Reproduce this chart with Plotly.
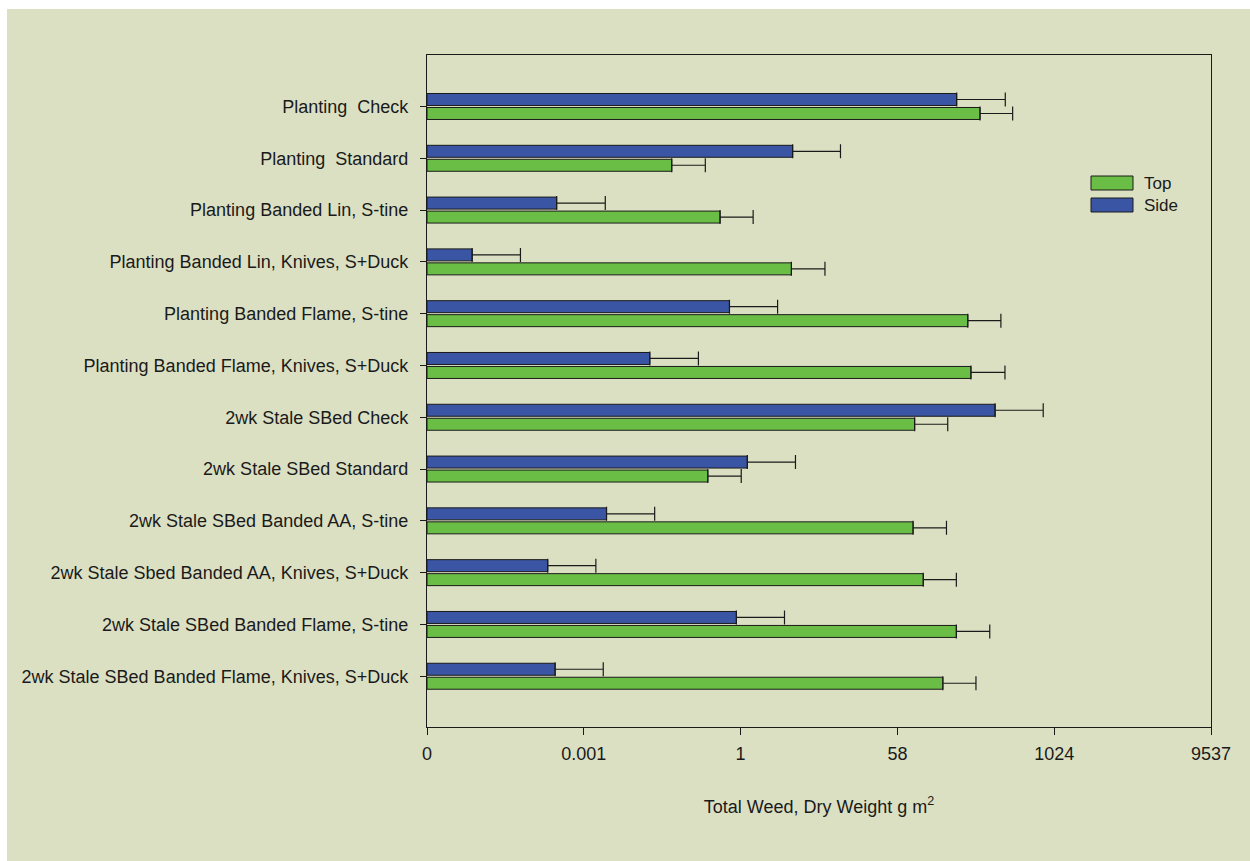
import plotly.graph_objects as go

categories = [
    "Planting  Check",
    "Planting  Standard",
    "Planting Banded Lin, S-tine",
    "Planting Banded Lin, Knives, S+Duck",
    "Planting Banded Flame, S-tine",
    "Planting Banded Flame, Knives, S+Duck",
    "2wk Stale SBed Check",
    "2wk Stale SBed Standard",
    "2wk Stale SBed Banded AA, S-tine",
    "2wk Stale Sbed Banded AA, Knives, S+Duck",
    "2wk Stale SBed Banded Flame, S-tine",
    "2wk Stale SBed Banded Flame, Knives, S+Duck",
]

# values in axis units (each tick step = 1 unit on the transformed scale)
side_vals = [3.378, 2.332, 0.827, 0.288, 1.929, 1.421, 3.623, 2.043, 1.145, 0.770, 1.973, 0.817]
side_err = [0.310, 0.305, 0.310, 0.308, 0.307, 0.310, 0.307, 0.307, 0.307, 0.307, 0.307, 0.307]
top_vals = [3.527, 1.561, 1.869, 2.324, 3.449, 3.469, 3.110, 1.791, 3.100, 3.165, 3.376, 3.290]
top_err = [0.208, 0.214, 0.211, 0.214, 0.211, 0.217, 0.211, 0.213, 0.213, 0.211, 0.213, 0.211]

tick_vals = [0, 1, 2, 3, 4, 5]
tick_text = ["0", "0.001", "1", "58", "1024", "9537"]

legend_names = ["Top", "Side"]

GREEN = "#6BBE45"
BLUE = "#3A55A4"
BG = "#DCE0C3"
INK = "#1a1a1a"
FONT = "Liberation Sans, Arial, sans-serif"

fig = go.Figure()
fig.add_trace(go.Bar(
    y=categories, x=side_vals, orientation="h", name="Side",
    marker=dict(color=BLUE, line=dict(color=INK, width=1)),
    error_x=dict(type="data", array=side_err, symmetric=False, arrayminus=[0]*len(side_err),
                 color=INK, thickness=1.2, width=7),
))
fig.add_trace(go.Bar(
    y=categories, x=top_vals, orientation="h", name="Top",
    marker=dict(color=GREEN, line=dict(color=INK, width=1)),
    error_x=dict(type="data", array=top_err, symmetric=False, arrayminus=[0]*len(top_err),
                 color=INK, thickness=1.2, width=7),
))

W, H = 1250, 861
L, R, T, B = 427, 39, 55, 134
pw, ph = W - L - R, H - T - B

def px_x(x):
    return (x - L) / pw

def px_y(y):
    return (H - B - y) / ph

fig.add_shape(type="rect", xref="paper", yref="paper", layer="below",
              x0=px_x(7), x1=px_x(1260), y0=px_y(9), y1=px_y(870),
              fillcolor=BG, line=dict(width=0))

# legend drawn as swatches + text (Top first, Side second)
legend_colors = [GREEN, BLUE]
for i, (name, col) in enumerate(zip(legend_names, legend_colors)):
    y0 = 176 + 22 * i
    fig.add_shape(type="rect", xref="paper", yref="paper",
                  x0=px_x(1091), x1=px_x(1133), y0=px_y(y0 + 14), y1=px_y(y0),
                  fillcolor=col, line=dict(color=INK, width=1))
    fig.add_annotation(xref="paper", yref="paper", x=px_x(1142), y=px_y(y0 + 7),
                       text=name, showarrow=False, xanchor="left", yanchor="middle",
                       font=dict(size=17, color=INK))

fig.update_layout(
    width=W, height=H,
    margin=dict(l=L, r=R, t=T, b=B, pad=0),
    paper_bgcolor="white",
    plot_bgcolor="white",
    barmode="group",
    bargap=0.46,
    bargroupgap=0.143,
    font=dict(family=FONT, size=18, color=INK),
    showlegend=False,
    xaxis=dict(
        range=[0, 5], tickvals=tick_vals, ticktext=tick_text,
        showgrid=False, zeroline=False,
        showline=True, linecolor=INK, linewidth=1.3, mirror=True,
        ticks="outside", ticklen=7, tickcolor=INK,
        ticklabelstandoff=3,
        title=dict(text="Total Weed, Dry Weight g m<sup>2</sup>", standoff=37,
                   font=dict(size=18)),
    ),
    yaxis=dict(
        type="category", categoryorder="array", categoryarray=categories,
        range=[11.98, -0.994],
        showgrid=False, zeroline=False,
        showline=True, linecolor=INK, linewidth=1.3, mirror=True,
        ticks="outside", ticklen=6, tickcolor=INK,
        ticklabelstandoff=8,
    ),
)

fig.write_html("out.html")
